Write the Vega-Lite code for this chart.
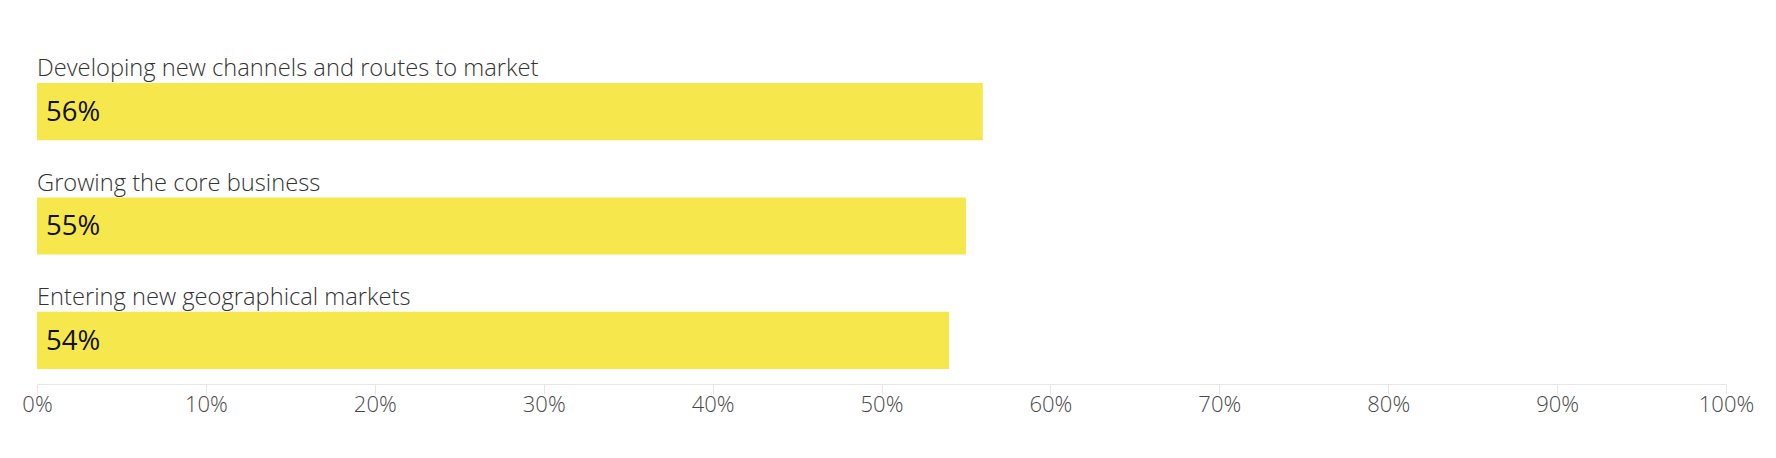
{
  "$schema": "https://vega.github.io/schema/vega-lite/v6.json",
  "width": 1689,
  "height": 316,
  "autosize": {"type": "none"},
  "padding": {"left": 37, "top": 68, "right": 50, "bottom": 74},
  "background": "white",
  "config": {"view": {"stroke": null}},
  "data": {
    "values": [
      {"category": "Developing new channels and routes to market", "value": 0.56},
      {"category": "Growing the core business", "value": 0.55},
      {"category": "Entering new geographical markets", "value": 0.54}
    ]
  },
  "encoding": {
    "y": {
      "field": "category",
      "type": "nominal",
      "sort": null,
      "axis": null,
      "scale": {"paddingInner": 0.5, "paddingOuter": 0.13}
    }
  },
  "layer": [
    {
      "mark": {"type": "bar", "color": "#f6e84c"},
      "encoding": {
        "x": {
          "field": "value",
          "type": "quantitative",
          "scale": {"domain": [0, 1]},
          "axis": {
            "format": ".0%",
            "values": [0, 0.1, 0.2, 0.3, 0.4, 0.5, 0.6, 0.7, 0.8, 0.9, 1],
            "grid": false,
            "title": null,
            "domainColor": "#e6e6e6",
            "tickColor": "#e6e6e6",
            "tickSize": 10,
            "labelPadding": 0.5,
            "labelFlush": false,
            "labelFont": "Open Sans",
            "labelFontSize": 22,
            "labelColor": "#4a4a4a",
            "labelFontWeight": 300
          }
        }
      }
    },
    {
      "mark": {"type": "text", "align": "left", "baseline": "alphabetic", "dy": -35.5, "font": "Open Sans", "fontSize": 23.7, "fontWeight": 300, "color": "#333333"},
      "encoding": {
        "x": {"datum": 0, "type": "quantitative"},
        "text": {"field": "category"}
      }
    },
    {
      "mark": {"type": "text", "align": "left", "baseline": "alphabetic", "dx": 9, "dy": 9.4, "font": "Open Sans", "fontSize": 27.5, "color": "#111111"},
      "encoding": {
        "x": {"datum": 0, "type": "quantitative"},
        "text": {"field": "value", "format": ".0%"}
      }
    }
  ]
}
